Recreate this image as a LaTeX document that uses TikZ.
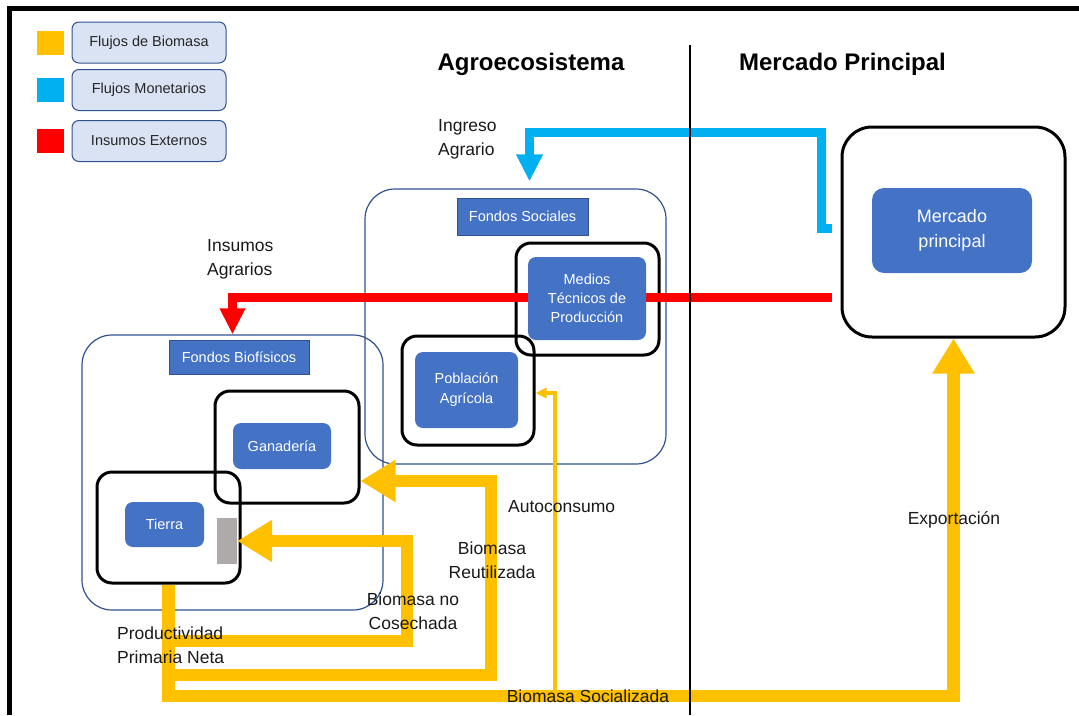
\documentclass[tikz,border=0pt]{standalone}
\usepackage{fontspec}
\setmainfont{Liberation Sans}
\usetikzlibrary{calc}
\usetikzlibrary{arrows.meta}

\definecolor{amarillo}{RGB}{255,192,0}
\definecolor{celeste}{RGB}{0,176,240}
\definecolor{rojo}{RGB}{255,0,0}
\definecolor{azulnodo}{RGB}{68,114,196}
\definecolor{azulborde}{RGB}{47,82,143}
\definecolor{grisclaro}{RGB}{218,227,243}
\definecolor{gris}{RGB}{174,170,170}

\begin{document}
\begin{tikzpicture}[x=1pt,y=-1pt,
  fondo/.style={draw=azulborde,line width=1.2pt,rounded corners=30pt,minimum width=301pt,minimum height=275pt,inner sep=0pt},
  marco/.style={draw=black,line width=3pt,rounded corners=15pt,inner sep=0pt},
  bloque/.style={fill=azulnodo,text=white,rounded corners=8pt,align=center,inner sep=0pt,font=\fontsize{14.5}{19}\selectfont},
  titulo/.style={fill=azulnodo,draw=azulborde,line width=0.6pt,text=white,inner sep=0pt,font=\fontsize{14.5}{18}\selectfont},
  leyenda/.style={fill=grisclaro,draw=azulborde,line width=1pt,rounded corners=7pt,minimum width=154pt,minimum height=41pt,text=black!85,font=\fontsize{14.5}{18}\selectfont},
  etiq/.style={align=center,inner sep=0pt,text=black!90,font=\fontsize{17.5}{24}\selectfont},
  biomasa/.style={draw=amarillo,line width=12.5pt,-{Triangle[length=35pt,width=40pt]}},
  autoconsumo/.style={draw=amarillo,line width=3.5pt,-{Triangle[length=11pt,width=10pt]}},
  insumo/.style={draw=rojo,line width=9pt,-{Triangle[length=26pt,width=24pt]}},
  monetario/.style={draw=celeste,line width=9pt,-{Triangle[length=27pt,width=25pt]}}
]
\useasboundingbox (0,0) rectangle (1079,715);
\draw[line width=5pt] (9.5,715) -- (9.5,8) -- (1079,8);

\foreach \c/\t/\y [count=\i] in {amarillo/Flujos de Biomasa/42.5,celeste/Flujos Monetarios/90,rojo/Insumos Externos/141} {
  \node[fill=\c,minimum width=27pt,minimum height=24pt,inner sep=0pt] (cuadro_\i) at (50.5,\y) {};
  \node[leyenda] (ley_\i) at (149,\y) {\t};
}

\node[font=\fontsize{24}{28}\selectfont\bfseries] (agro) at (531,64) {Agroecosistema};
\node[font=\fontsize{24}{28}\selectfont\bfseries] (merc) at (842.5,64) {Mercado Principal};

\node[fondo] (fs) at (515.5,326.5) {};
\node[fondo] (fb) at (232.5,472.5) {};
\node[titulo,minimum width=131pt,minimum height=37pt] (fs_t) at (522.5,216.5) {Fondos Sociales};
\node[titulo,minimum width=140pt,minimum height=34pt] (fb_t) at (239,357) {Fondos Biofísicos};

\node[marco,minimum width=143pt,minimum height=112pt] (mtf) at (587.5,299) {};
\node[marco,minimum width=132pt,minimum height=109pt] (pf) at (468,390.5) {};
\node[marco,minimum width=144pt,minimum height=112pt] (gf) at (287,447) {};
\node[marco,minimum width=143pt,minimum height=111pt] (tf) at (168.5,527.5) {};
\node[marco,rounded corners=30pt,minimum width=223pt,minimum height=210pt] (mf) at (953.5,232) {};

\draw[insumo] ($(mf.west)+(-9,65)$) -| (fb.north);
\draw[monetario] ($(mf.west)+(-9,-4)$) -- (821,228) -- (821,132) -| ($(fs.north)+(14,-7)$);

\node[bloque,minimum width=118pt,minimum height=83pt] (mt) at (587,298.5) {Medios\\Técnicos de\\Producción};
\node[bloque,minimum width=103pt,minimum height=76pt,font=\fontsize{14.5}{20}\selectfont] (pa) at (466.5,390) {Población\\Agrícola};
\node[bloque,minimum width=98pt,minimum height=46pt] (ga) at (282,446) {Ganadería};
\node[bloque,minimum width=79pt,minimum height=45pt] (ti) at (164.5,524.5) {Tierra};
\node[bloque,rounded corners=12pt,minimum width=160pt,minimum height=85pt,font=\fontsize{18}{25}\selectfont] (me) at (952,230.5) {Mercado\\principal};
\node[fill=gris,minimum width=20pt,minimum height=46pt,inner sep=0pt] (gr) at (227,541) {};

\draw[biomasa] (tf.south) |- (407,641) |- (gr.east);
\draw[biomasa] (tf.south) |- (491,675) |- ([yshift=-34pt]gf.east);
\draw[biomasa] (tf.south) |- (953.5,696) -- (mf.south);
\draw[autoconsumo] (555,690) |- ([yshift=-2.5pt]pf.east);

\node[etiq,anchor=west,align=left] (ingreso) at (438,139) {Ingreso\\Agrario};
\node[etiq,anchor=west,align=left] (insumos) at (207,259) {Insumos\\Agrarios};
\node[etiq,anchor=west] (auto) at (508,507) {Autoconsumo};
\node[etiq] (reuti) at (492,560) {Biomasa\\Reutilizada};
\node[etiq] (nocos) at (413,611) {Biomasa no\\Cosechada};
\node[etiq,anchor=west,align=left] (ppn) at (117,645) {Productividad\\Primaria Neta};
\node[etiq] (social) at (588,696) {Biomasa Socializada};
\node[etiq] (export) at (954,520) {Exportación};

\draw[line width=2pt] (690,45) -- (690,715);
\end{tikzpicture}
\end{document}
